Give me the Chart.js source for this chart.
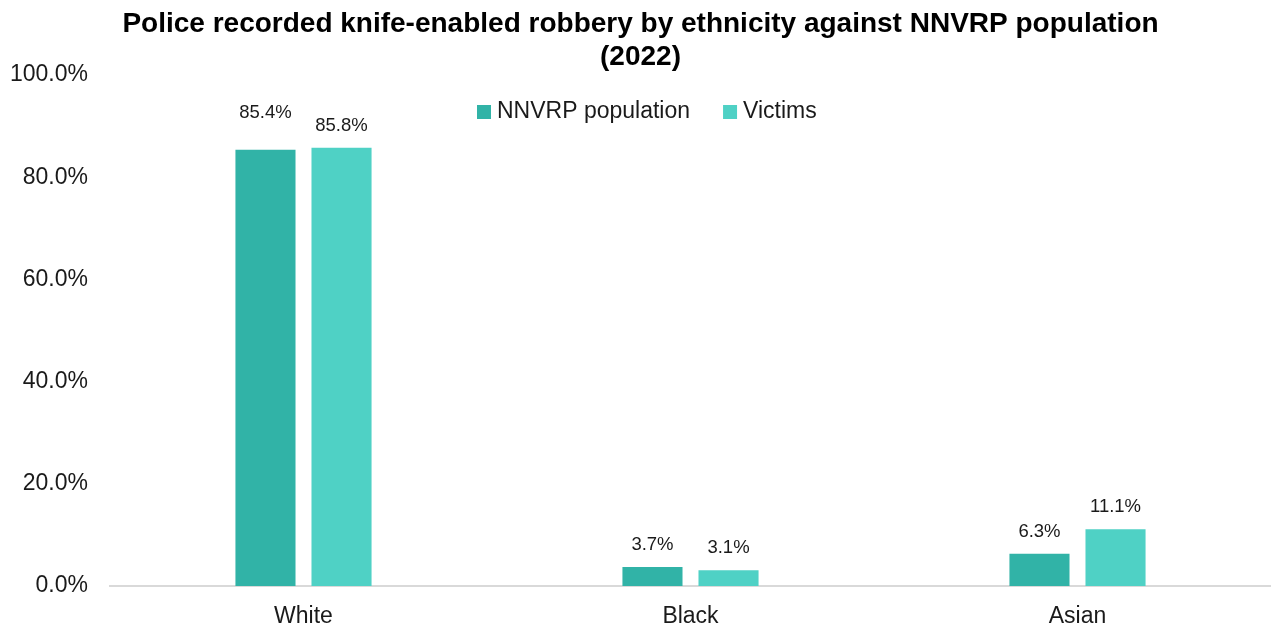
<!DOCTYPE html>
<html>
<head>
<meta charset="utf-8">
<style>
  html, body { margin: 0; padding: 0; background: #fff; overflow: hidden; }
  #wrap { width: 1271px; height: 625px; }
</style>
<script src="https://cdn.jsdelivr.net/npm/chart.js"></script>
</head>
<body>
<div id="wrap"><canvas id="chart" width="1271" height="625"></canvas></div>
<script>
const categories = ['White', 'Black', 'Asian'];
const populationValues = [85.4, 3.7, 6.3];
const victimValues = [85.8, 3.1, 11.1];
const seriesNames = ['NNVRP population', 'Victims'];
const yTicks = [0, 20, 40, 60, 80, 100];

const FONT = "'Liberation Sans', Arial, sans-serif";
const COLORS = ['#31b3a7', '#4fd1c5'];

// legend drawn inside the plot area, like the original
const legendPlugin = {
  id: 'insideLegend',
  afterDraw(chart) {
    const ctx = chart.ctx;
    ctx.save();
    ctx.font = `23px ${FONT}`;
    ctx.textBaseline = 'middle';
    let x = 477;
    const y = 112;
    chart.data.datasets.forEach((ds) => {
      ctx.fillStyle = ds.backgroundColor;
      ctx.fillRect(x, y - 7, 14, 14);
      ctx.fillStyle = '#1a1a1a';
      ctx.textAlign = 'left';
      ctx.fillText(ds.label, x + 20, y);
      x += 20 + ctx.measureText(ds.label).width + 33;
    });
    ctx.restore();
  }
};

// value labels above each bar
const valueLabels = {
  id: 'valueLabels',
  afterDatasetsDraw(chart) {
    const ctx = chart.ctx;
    ctx.save();
    ctx.font = `18.5px ${FONT}`;
    ctx.fillStyle = '#1a1a1a';
    ctx.textAlign = 'center';
    ctx.textBaseline = 'middle';
    chart.data.datasets.forEach((ds, di) => {
      chart.getDatasetMeta(di).data.forEach((bar, i) => {
        // first label sits a bit higher in the original
        const lift = (di === 0 && i === 0) ? 37 : 22;
        ctx.fillText(ds.data[i].toFixed(1) + '%', bar.x, bar.y - lift);
      });
    });
    ctx.restore();
  }
};

new Chart(document.getElementById('chart').getContext('2d'), {
  type: 'bar',
  data: {
    labels: categories,
    datasets: [
      { label: seriesNames[0], data: populationValues, backgroundColor: COLORS[0] },
      { label: seriesNames[1], data: victimValues, backgroundColor: COLORS[1] },
    ],
  },
  options: {
    responsive: false,
    animation: false,
    categoryPercentage: 0.393,
    barPercentage: 0.79,
    layout: { padding: { left: 10, right: 0, top: 0, bottom: 0 } },
    plugins: {
      legend: { display: false },
      tooltip: { enabled: false },
      title: {
        display: true,
        text: ['Police recorded knife-enabled robbery by ethnicity against NNVRP population', '(2022)'],
        font: { family: FONT, size: 28, weight: 'bold', lineHeight: 1.18 },
        color: '#000',
        padding: { top: 8, bottom: 1 },
      },
    },
    scales: {
      x: {
        grid: { display: false },
        border: { display: true, color: '#d9d9d9', width: 2 },
        ticks: { font: { family: FONT, size: 23 }, color: '#1a1a1a', padding: 9 },
        afterFit(scale) { scale.height = 39; },
      },
      y: {
        min: 0,
        max: 100,
        afterBuildTicks(scale) { scale.ticks = yTicks.map((v) => ({ value: v })); },
        grid: { display: false },
        border: { display: false },
        ticks: {
          font: { family: FONT, size: 23 },
          color: '#1a1a1a',
          padding: 14,
          callback: (v) => v.toFixed(1) + '%',
        },
        afterFit(scale) { scale.width = 100; },
      },
    },
  },
  plugins: [legendPlugin, valueLabels],
});
</script>
</body>
</html>
